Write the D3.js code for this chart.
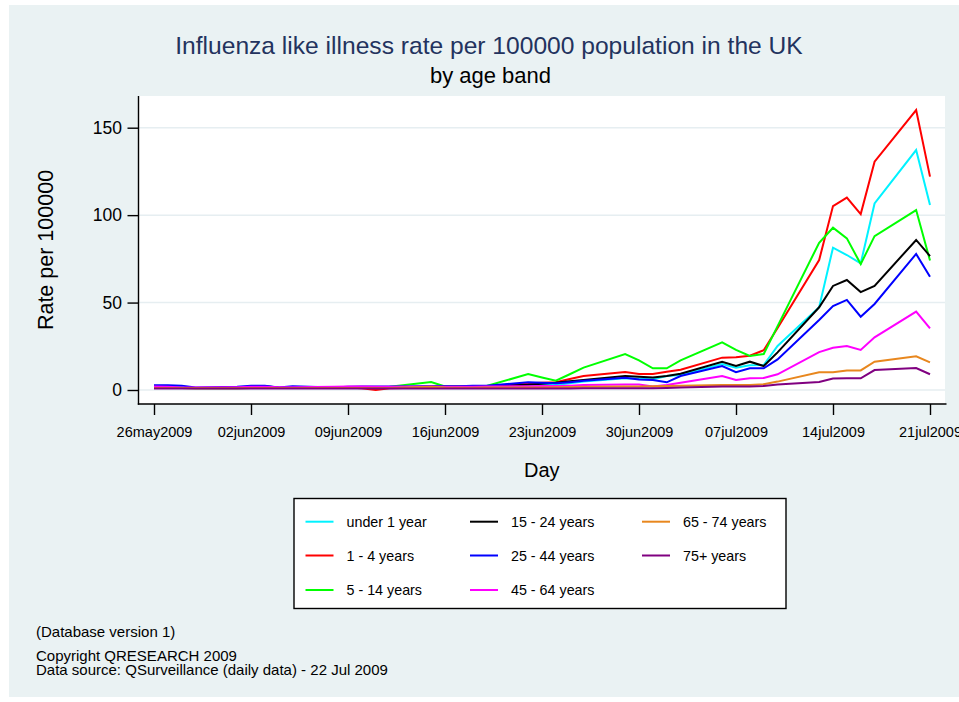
<!DOCTYPE html>
<html>
<head>
<meta charset="utf-8">
<script src="https://cdn.jsdelivr.net/npm/d3@7/dist/d3.min.js"></script>
<style>
  html, body { margin: 0; padding: 0; background: #ffffff; }
  svg { display: block; font-family: "Liberation Sans", Arial, Helvetica, sans-serif; }
</style>
</head>
<body>
<svg id="chart" width="959" height="702"></svg>
<script>
// Reporting days (weekdays, 26 May - 21 Jul 2009)
const days = [
  "2009-05-26","2009-05-27","2009-05-28","2009-05-29",
  "2009-06-01","2009-06-02","2009-06-03","2009-06-04","2009-06-05",
  "2009-06-08","2009-06-09","2009-06-10","2009-06-11","2009-06-12",
  "2009-06-15","2009-06-16","2009-06-17","2009-06-18","2009-06-19",
  "2009-06-22","2009-06-23","2009-06-24","2009-06-25","2009-06-26",
  "2009-06-29","2009-06-30","2009-07-01","2009-07-02","2009-07-03",
  "2009-07-06","2009-07-07","2009-07-08","2009-07-09","2009-07-10",
  "2009-07-13","2009-07-14","2009-07-15","2009-07-16","2009-07-17",
  "2009-07-20","2009-07-21"
];

// ILI rate per 100000 by age band
const under1 = [1.5,1.5,1.5,1.2, 1.2,1.5,1.5,1.2,1.2, 1.5,1.5,1.5,1.5,1.5, 2.0,2.0,1.5,1.5,1.5,
  2.5,2.8,2.9,3.8,4.8, 6.7,6.4,6.1,8.0,8.6, 14.9,12.8,14.1,14.3,25.2, 47.3,81.4,77.2,72.4,106.7, 137.2,105.8];
const age1to4 = [1.5,1.5,1.2,1.0, 1.0,1.2,1.5,1.2,1.2, 1.5,1.5,1.0,0.0,1.0, 1.5,1.5,1.5,1.5,1.5,
  3.8,4.2,4.5,6.3,8.0, 10.3,9.1,9.1,10.4,11.6, 18.5,18.7,19.6,22.7,35.5, 74.3,105.2,110.0,100.6,130.6, 160.1,122.0];
const age5to14 = [1.5,1.5,1.2,1.0, 1.0,1.2,1.5,1.2,1.2, 1.5,1.5,1.5,1.5,1.8, 4.6,2.0,2.0,2.0,2.3,
  9.1,7.2,5.3,9.0,12.8, 20.5,17.0,12.4,12.4,17.0, 27.3,22.9,19.5,20.6,36.5, 84.2,92.8,86.7,72.0,88.0, 102.9,74.0];
const age15to24 = [1.5,1.5,1.2,1.2, 1.2,1.5,2.2,1.5,1.2, 1.5,1.5,1.5,1.5,1.5, 2.0,2.0,2.0,2.0,2.2,
  3.0,3.6,4.2,5.0,5.7, 8.0,7.6,7.2,8.0,9.3, 16.2,13.7,16.2,13.7,21.5, 47.3,59.5,62.9,56.0,59.5, 85.8,76.6];
const age25to44 = [2.7,2.7,2.5,1.5, 1.8,2.5,2.5,1.5,2.2, 1.5,1.8,2.0,2.0,2.0, 2.2,2.2,2.2,2.5,2.5,
  4.4,4.1,3.8,4.5,5.3, 7.0,6.0,5.7,4.4,8.0, 13.7,10.2,12.4,12.4,17.5, 40.0,48.0,51.5,41.9,49.2, 77.8,64.8];
const age45to64 = [2.0,1.8,1.5,1.5, 1.6,1.8,1.8,1.6,1.6, 1.8,2.0,2.0,1.8,1.8, 2.0,1.8,1.8,1.8,2.0,
  2.2,2.3,2.3,2.5,2.8, 3.2,3.2,2.0,2.8,4.2, 8.0,5.7,6.7,6.9,9.0, 21.7,24.2,25.2,22.9,30.1, 44.8,35.3];
const age65to74 = [1.2,1.2,1.2,1.2, 1.2,1.2,1.2,1.2,1.2, 1.2,1.2,1.2,1.2,1.2, 1.8,1.4,1.3,1.3,1.4,
  1.5,1.5,1.6,1.7,1.8, 2.0,2.0,2.2,2.3,2.5, 2.8,2.8,2.9,3.3,4.8, 10.1,10.1,11.2,11.2,16.2, 19.3,15.8];
const age75plus = [0.8,0.8,0.8,0.8, 0.8,0.8,0.8,0.8,0.8, 0.8,0.8,0.8,0.8,0.8, 0.8,0.8,0.8,0.8,0.8,
  0.8,0.8,0.8,0.9,1.0, 1.0,1.0,1.0,1.2,1.5, 2.0,2.0,2.0,2.3,3.2, 4.6,6.6,6.7,6.7,11.4, 12.6,9.0];

const seriesNames = ["under 1 year","1 - 4 years","5 - 14 years","15 - 24 years",
                     "25 - 44 years","45 - 64 years","65 - 74 years","75+ years"];
const seriesColors = ["#00f2ff","#ff0000","#00ff00","#000000","#0000ff","#ff00ff","#e8871e","#800080"];
const seriesValues = [under1, age1to4, age5to14, age15to24, age25to44, age45to64, age65to74, age75plus];

// Axis ticks
const xTickLabels = ["26may2009","02jun2009","09jun2009","16jun2009","23jun2009",
                     "30jun2009","07jul2009","14jul2009","21jul2009"];
const yTicks = [0, 50, 100, 150];

const titleText = "Influenza like illness rate per 100000 population in the UK";
const subtitleText = "by age band";
const xTitle = "Day";
const yTitle = "Rate per 100000";
const notes = ["(Database version 1)", "Copyright QRESEARCH 2009",
               "Data source: QSurveillance (daily data) - 22 Jul 2009"];

// ---------------------------------------------------------------
const svg = d3.select("#chart");
const W = 959, H = 702;
const bg = "#eaf2f3";
const plot = { left: 138.5, right: 945, top: 96, bottom: 404 };

const parseDay = d3.utcParse("%Y-%m-%d");
const parseTick = d3.utcParse("%d%b%Y");
const fmtTick = d3.utcFormat("%d%b%Y");

// graph region
svg.append("rect").attr("x", 0).attr("y", 0).attr("width", W).attr("height", H).attr("fill", "#ffffff");
svg.append("rect").attr("x", 9).attr("y", 5).attr("width", W - 9).attr("height", H - 10).attr("fill", bg);

// plot region
svg.append("rect")
  .attr("x", plot.left).attr("y", plot.top)
  .attr("width", plot.right - plot.left).attr("height", plot.bottom - plot.top)
  .attr("fill", "#ffffff");

const x = d3.scaleUtc()
  .domain([parseDay(days[0]), parseDay(days[days.length - 1])])
  .range([154, 930]);
const y = d3.scaleLinear().domain([0, 150]).range([390, 127.7]);

// gridlines
svg.append("g").selectAll("line").data(yTicks).join("line")
  .attr("x1", plot.left).attr("x2", plot.right)
  .attr("y1", d => y(d)).attr("y2", d => y(d))
  .attr("stroke", "#e6eef1").attr("stroke-width", 1.5);

// series lines (drawn in age-band order)
const line = d3.line()
  .x((d, i) => x(parseDay(days[i])))
  .y(d => y(d));

svg.append("g").selectAll("path").data(seriesValues).join("path")
  .attr("d", d => line(d))
  .attr("fill", "none")
  .attr("stroke", (d, i) => seriesColors[i])
  .attr("stroke-width", 2)
  .attr("stroke-linejoin", "miter");

// axes
const xAxis = d3.axisBottom(x)
  .tickValues(xTickLabels.map(parseTick))
  .tickFormat(d => fmtTick(d).toLowerCase())
  .tickSize(11).tickPadding(11.5);
const gx = svg.append("g").attr("transform", `translate(0,${plot.bottom})`).call(xAxis);
gx.select(".domain").remove();
gx.selectAll(".tick line").attr("stroke", "#000").attr("stroke-width", 1.4);
gx.selectAll(".tick text").attr("font-size", "14.5px").attr("fill", "#000")
  .attr("font-family", "'Liberation Sans', Arial, sans-serif");

const yAxis = d3.axisLeft(y).tickValues(yTicks).tickSize(11).tickPadding(5.5);
const gy = svg.append("g").attr("transform", `translate(${plot.left},0)`).call(yAxis);
gy.select(".domain").remove();
gy.selectAll(".tick line").attr("stroke", "#000").attr("stroke-width", 1.4);
gy.selectAll(".tick text").attr("font-size", "17.5px").attr("fill", "#000")
  .attr("font-family", "'Liberation Sans', Arial, sans-serif");

// axis lines
svg.append("line").attr("x1", plot.left).attr("x2", plot.left)
  .attr("y1", plot.top).attr("y2", plot.bottom + 0.7)
  .attr("stroke", "#000").attr("stroke-width", 1.4);
svg.append("line").attr("x1", plot.left - 0.7).attr("x2", plot.right + 1.5)
  .attr("y1", plot.bottom).attr("y2", plot.bottom)
  .attr("stroke", "#000").attr("stroke-width", 1.4);

// titles
svg.append("text").attr("x", 489).attr("y", 54).attr("text-anchor", "middle")
  .attr("font-size", "24.6px").attr("fill", "#23335e").text(titleText);
svg.append("text").attr("x", 490.5).attr("y", 83).attr("text-anchor", "middle")
  .attr("font-size", "22px").attr("fill", "#000").text(subtitleText);
svg.append("text").attr("x", (plot.left + plot.right) / 2).attr("y", 477).attr("text-anchor", "middle")
  .attr("font-size", "20px").attr("fill", "#000").text(xTitle);
svg.append("text").attr("transform", "translate(53,250) rotate(-90)").attr("text-anchor", "middle")
  .attr("font-size", "21.5px").attr("fill", "#000").text(yTitle);

// legend
const leg = { x: 294, y: 498.5, w: 492, h: 110 };
svg.append("rect").attr("x", leg.x).attr("y", leg.y).attr("width", leg.w).attr("height", leg.h)
  .attr("fill", "#ffffff").attr("stroke", "#000").attr("stroke-width", 1.4);
const legCols = [305.5, 470, 642];
const legRows = [521.7, 555.5, 590];
const items = svg.append("g").selectAll("g").data(seriesNames).join("g")
  .attr("transform", (d, i) => `translate(${legCols[Math.floor(i / 3)]},${legRows[i % 3]})`);
items.append("line").attr("x1", 0).attr("x2", 28).attr("y1", 0).attr("y2", 0)
  .attr("stroke", (d, i) => seriesColors[i]).attr("stroke-width", 2);
items.append("text").attr("x", 41).attr("y", 5.2).attr("font-size", "14.3px").attr("fill", "#000")
  .text(d => d);

// notes
const noteY = [637, 660.5, 675];
svg.append("g").selectAll("text").data(notes).join("text")
  .attr("x", 36).attr("y", (d, i) => noteY[i])
  .attr("font-size", "15px").attr("fill", "#000").text(d => d);
</script>
</body>
</html>
